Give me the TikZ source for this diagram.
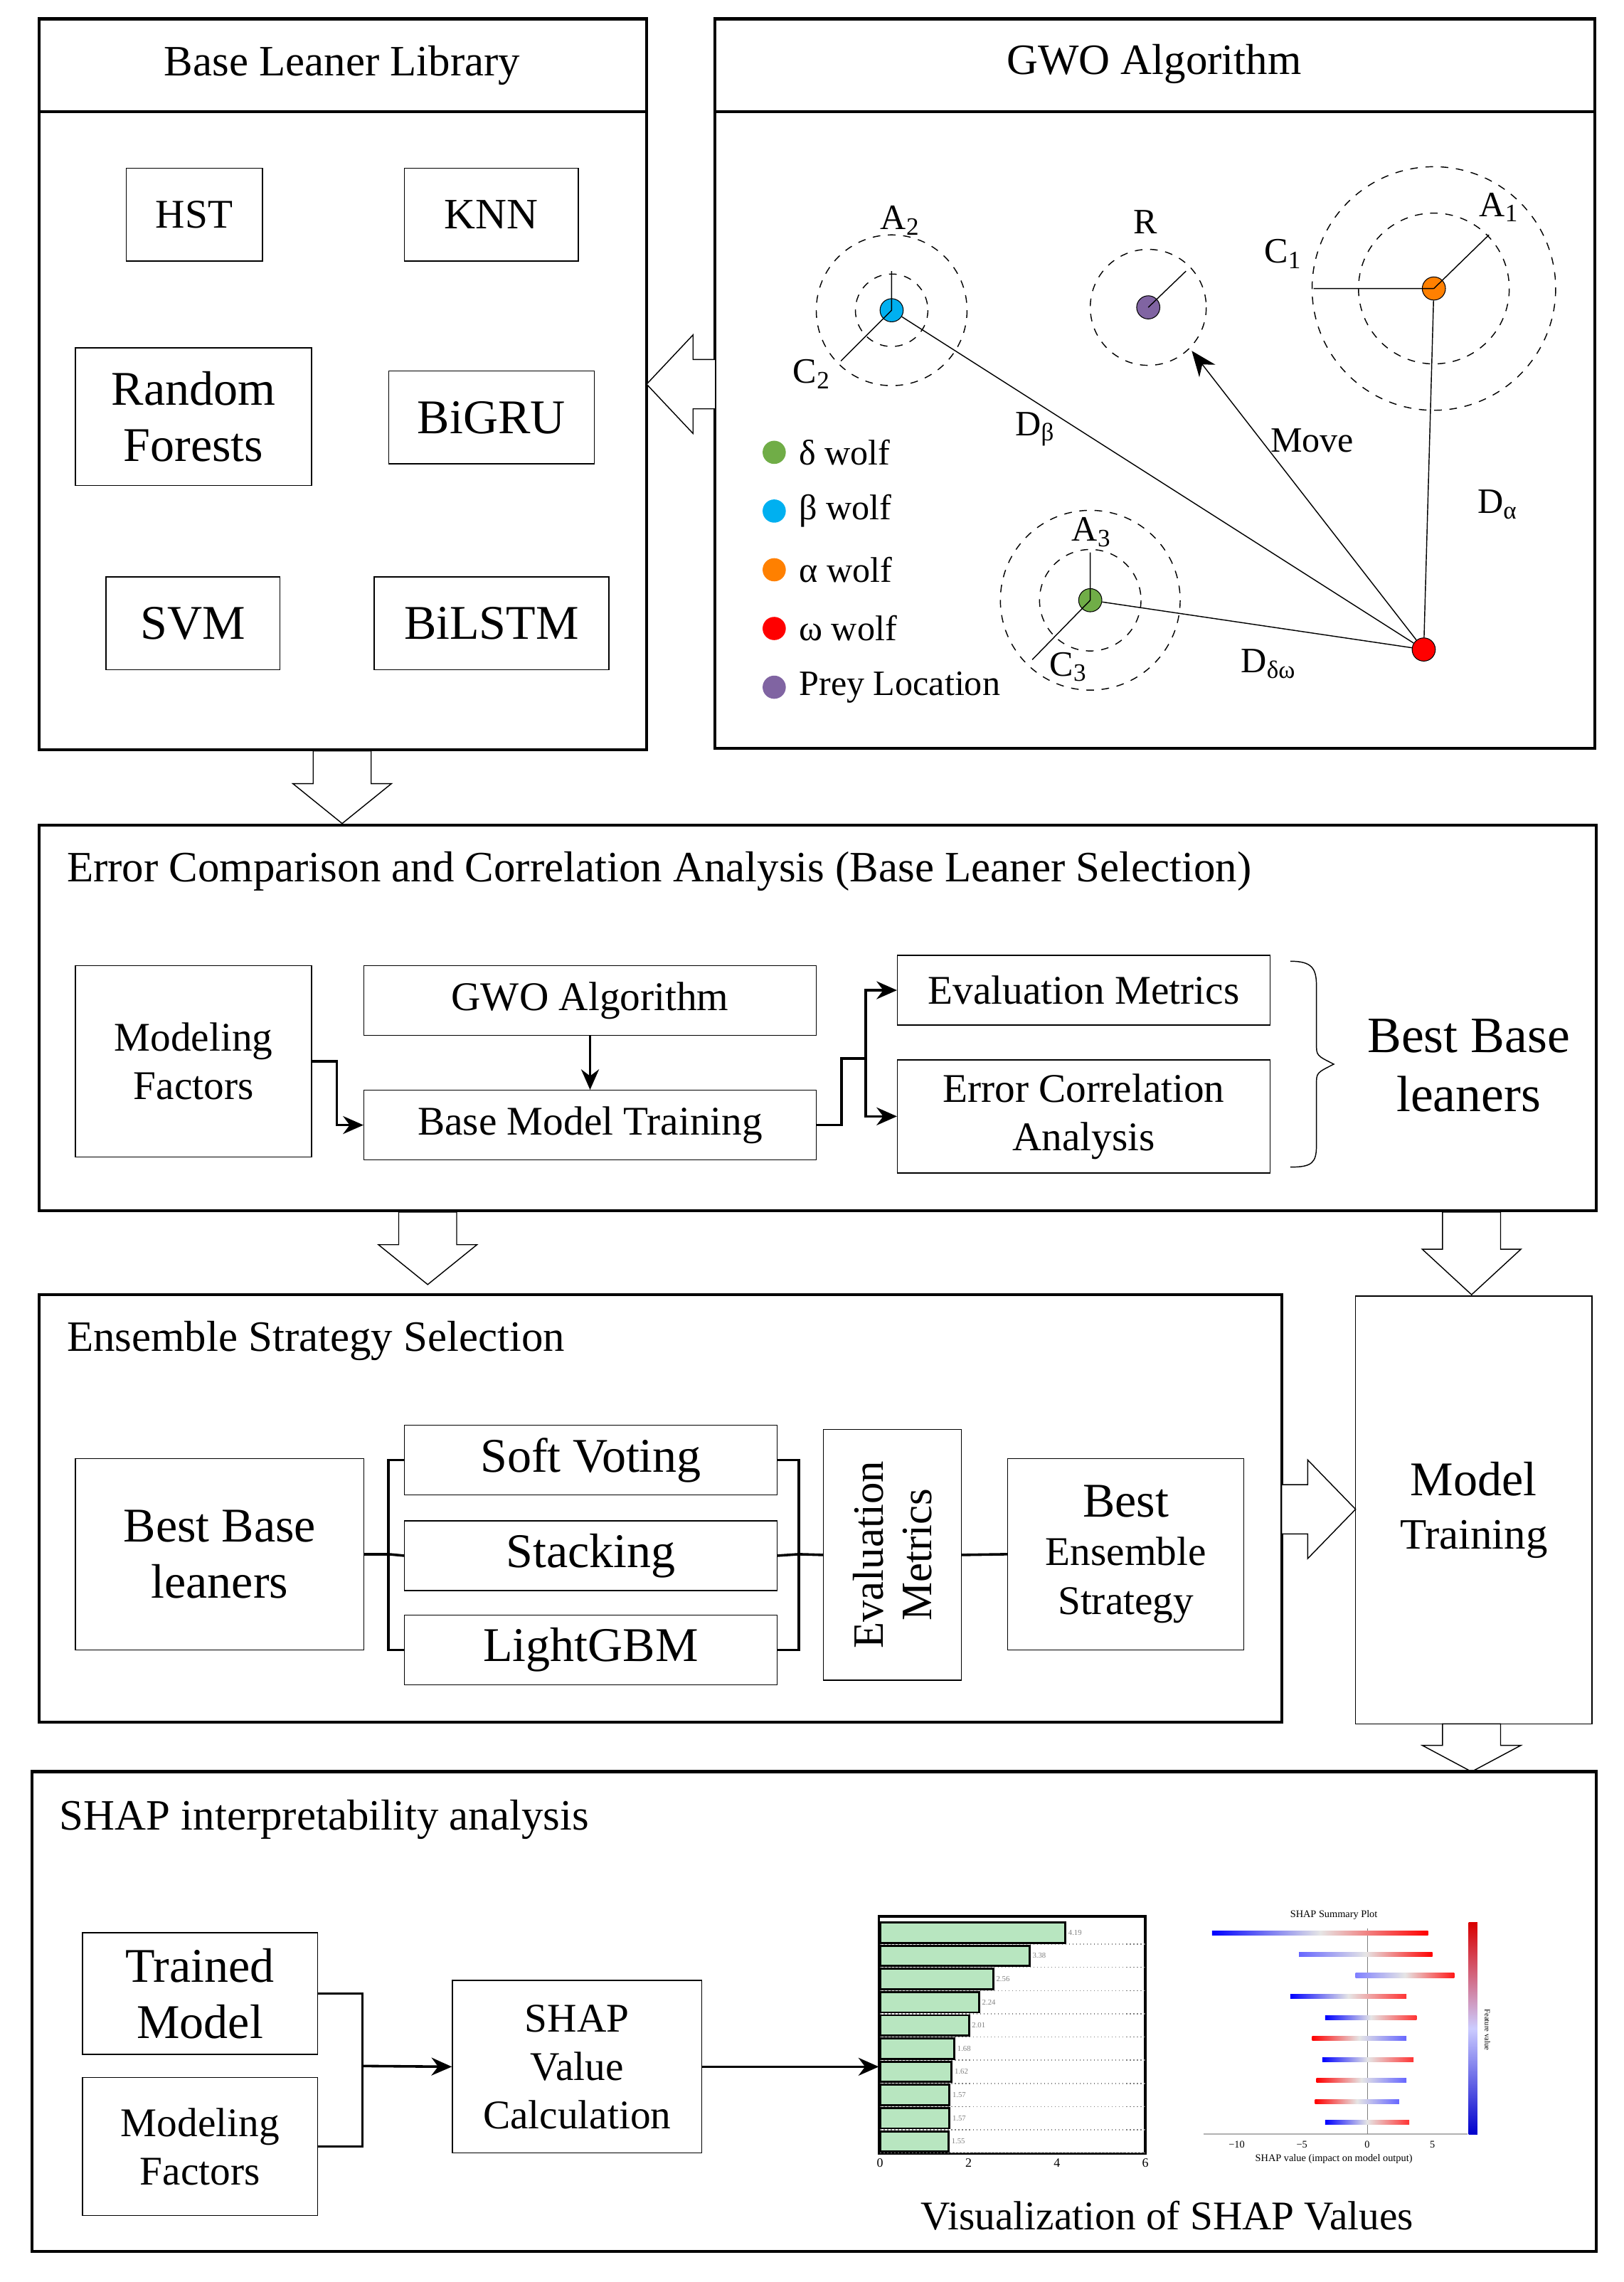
\documentclass[tikz,border=0pt]{standalone}
\usepackage{fontspec}
\setmainfont{Liberation Serif}
\usetikzlibrary{arrows.meta}
\definecolor{wolfgreen}{RGB}{112,173,71}
\definecolor{wolfblue}{RGB}{0,176,240}
\definecolor{wolforange}{RGB}{255,128,0}
\definecolor{wolfpurple}{RGB}{128,100,162}
\definecolor{barfill}{RGB}{184,230,192}
\tikzset{
  frame/.style={draw, line width=1.2pt},
  box/.style={draw, thin, align=center, inner sep=1pt, font=\fontsize{16}{19}\selectfont},
  bigbox/.style={box, font=\fontsize{19}{22}\selectfont},
  title/.style={font=\fontsize{17}{20}\selectfont},
  conn/.style={line width=1pt},
  arr/.style={conn, -{Stealth[length=8pt,width=7pt]}},
  hollow/.style={draw, fill=white, thin},
  wolf/.style={circle, draw=black, line width=0.3pt, inner sep=0pt, minimum size=0.32cm},
  ring/.style={draw, dashed, thin},
  lbl/.style={font=\fontsize{14}{16}\selectfont}
}
% hollow block arrow pointing down: x, top y, bottom y
\newcommand{\hdown}[3]{%
  \pgfmathsetmacro{\hmid}{#2+0.45*(#3-#2)}%
  \path[hollow] ({#1-20},#2) -- ({#1+20},#2) -- ({#1+20},\hmid) -- ({#1+34},\hmid) -- (#1,#3) -- ({#1-34},\hmid) -- ({#1-20},\hmid) -- cycle;}
\begin{document}
\begin{tikzpicture}[x=0.02cm, y=-0.02cm]
  \useasboundingbox (0,0) rectangle (1120,1574);

  % Base learner library
  \draw[frame] (27,13) rectangle (446,517);
  \draw[frame] (27,77) -- (446,77);
  \node[title] at (236,45) {Base Leaner Library};
  \node[box, minimum width=1.88cm, minimum height=1.28cm] (hst) at (134,148) {HST};
  \node[box, minimum width=2.4cm, minimum height=1.28cm, font=\fontsize{17}{20}\selectfont] (knn) at (339,148) {KNN};
  \node[bigbox, minimum width=3.26cm, minimum height=1.9cm] (rf) at (133.5,287.5) {Random\\Forests};
  \node[bigbox, minimum width=2.84cm, minimum height=1.28cm] (bigru) at (339,288) {BiGRU};
  \node[bigbox, minimum width=2.4cm, minimum height=1.28cm] (svm) at (133,430) {SVM};
  \node[bigbox, minimum width=3.24cm, minimum height=1.28cm] (bilstm) at (339,430) {BiLSTM};

  % GWO algorithm
  \draw[frame] (493,13) rectangle (1100,516);
  \draw[frame] (493,77) -- (1100,77);
  \node[title] at (796,44) {GWO Algorithm};
  \path[hollow] (493,248) -- (478,248) -- (478,231) -- (446,265) -- (478,299) -- (478,282) -- (493,282);
  \draw[ring] (615,214) circle (25) (615,214) circle (52);
  \draw[ring] (792,212) circle (40);
  \draw[ring] (989,199) circle (52) (989,199) circle (84);
  \draw[ring] (752,414) circle (35) (752,414) circle (62);
  \node[wolf, fill=wolfblue] (beta) at (615,214) {};
  \node[wolf, fill=wolfpurple] (prey) at (792,212) {};
  \node[wolf, fill=wolforange] (alpha) at (989,199) {};
  \node[wolf, fill=wolfgreen] (delta) at (752,414) {};
  \node[wolf, fill=red] (omega) at (982,448) {};
  \coordinate (a2) at (615,187);
  \coordinate (c2) at (580,249);
  \coordinate (rr) at (818,187);
  \coordinate (a1) at (1027,162);
  \coordinate (c1) at (906,199);
  \coordinate (a3) at (752,381);
  \coordinate (c3) at (712,455);
  \draw[thin] (beta.center) -- (a2) (beta.center) -- (c2);
  \draw[thin] (prey.center) -- (rr);
  \draw[thin] (alpha.center) -- (a1) (alpha.center) -- (c1);
  \draw[thin] (delta.center) -- (a3) (delta.center) -- (c3);
  \draw[thin] (beta) -- (omega);
  \draw[thin] (alpha) -- (omega);
  \draw[thin] (delta) -- (omega);
  \coordinate (hit) at (822,242);
  \draw[thin, -{Stealth[length=10pt,width=8pt]}] (omega) -- (hit);
  \node[lbl] at (621,152) {A\textsubscript{2}};
  \node[lbl] at (560,258) {C\textsubscript{2}};
  \node[lbl] at (790,153) {R};
  \node[lbl] at (1034,143) {A\textsubscript{1}};
  \node[lbl] at (885,175) {C\textsubscript{1}};
  \node[lbl] at (753,367) {A\textsubscript{3}};
  \node[lbl] at (737,460) {C\textsubscript{3}};
  \node[lbl] at (714,296) {D\textsubscript{β}};
  \node[lbl] at (905,304) {Move};
  \node[lbl] at (1033,348) {D\textsubscript{α}};
  \node[lbl] at (875,458) {D\textsubscript{δω}};
  \foreach \c/\t [count=\i from 0] in {wolfgreen/δ wolf, wolfblue/β wolf, wolforange/α wolf, red/ω wolf, wolfpurple/Prey Location} {
    \fill[\c] (534,312+40.5*\i) circle (8);
    \node[lbl, anchor=west] at (545,312+40.5*\i) {\t};
  }

  \hdown{236}{518}{568}

  % error comparison
  \draw[frame] (27,569) rectangle (1101,835);
  \node[title, anchor=west] at (40,601) {Error Comparison and Correlation Analysis (Base Leaner Selection)};
  \node[box, minimum width=3.26cm, minimum height=2.64cm] (mf1) at (133.5,732) {Modeling\\Factors};
  \node[box, minimum width=6.24cm, minimum height=0.96cm] (gwo) at (407,690) {GWO Algorithm};
  \node[box, minimum width=6.24cm, minimum height=0.96cm] (bmt) at (407,776) {Base Model Training};
  \node[box, minimum width=5.14cm, minimum height=0.96cm] (em1) at (747.5,683) {Evaluation Metrics};
  \node[box, minimum width=5.14cm, minimum height=1.56cm] (eca) at (747.5,770) {Error Correlation\\Analysis};
  \coordinate (fork) at (597,730);
  \draw[arr] (mf1.east) -- ++(17,0) |- (bmt.west);
  \draw[arr] (gwo) -- (bmt);
  \draw[conn] (bmt.east) -- ++(17,0) |- (fork);
  \draw[arr] (fork) |- (em1.west);
  \draw[arr] (fork) |- (eca.west);
  \draw[thin] (890,663) .. controls (905,663) and (908,668) .. (908,680) -- (908,720) .. controls (908,728) .. (920,734) .. controls (908,740) .. (908,748) -- (908,790) .. controls (908,802) and (905,805) .. (890,805);
  \node[font=\fontsize{20}{23}\selectfont, align=center] (bbl1) at (1013,735) {Best Base\\leaners};

  \hdown{295}{836}{886}
  \hdown{1015}{836}{893}

  % ensemble strategy
  \draw[frame] (27,893) rectangle (884,1188);
  \node[title, anchor=west] at (40,925) {Ensemble Strategy Selection};
  \node[bigbox, minimum width=3.98cm, minimum height=2.64cm] (bbl2) at (151.5,1072) {Best Base\\leaners};
  \node[bigbox, minimum width=5.14cm, minimum height=0.96cm] (sv) at (407.5,1007) {Soft Voting};
  \node[bigbox, minimum width=5.14cm, minimum height=0.96cm] (st) at (407.5,1073) {Stacking};
  \node[bigbox, minimum width=5.14cm, minimum height=0.96cm] (lg) at (407.5,1138) {LightGBM};
  \node[box, rotate=90, minimum width=3.46cm, minimum height=1.9cm, font=\fontsize{17}{19}\selectfont] (em2) at (615.5,1072.5) {Evaluation\\Metrics};
  \node[box, minimum width=3.26cm, minimum height=2.64cm] (bes) at (776.5,1072) {{\fontsize{19}{22}\selectfont Best}\\Ensemble\\Strategy};
  \coordinate (spl) at (268,1072);
  \coordinate (mrg) at (551,1072);
  \draw[conn] (bbl2.east) -- (spl);
  \draw[conn] (sv.west) -| (spl) |- (lg.west);
  \draw[conn] (st.west) -- (spl);
  \draw[conn] (sv.east) -| (mrg) |- (lg.east);
  \draw[conn] (st.east) -- (mrg) -- (em2.north);
  \draw[conn] (em2.south) -- (bes.west);
  \path[hollow] (884,1024) -- (902,1024) -- (902,1007) -- (935,1041) -- (902,1075) -- (902,1058) -- (884,1058) -- cycle;
  \node[box, minimum width=3.26cm, minimum height=5.9cm, font=\fontsize{17}{21}\selectfont] (mt) at (1016.5,1041.5) {{\fontsize{19}{22}\selectfont Model}\\Training};
  \hdown{1015}{1189}{1222}

  % SHAP analysis
  \draw[frame] (22,1222) rectangle (1101,1553);
  \node[title, anchor=west] at (35,1255) {SHAP interpretability analysis};
  \node[bigbox, minimum width=3.24cm, minimum height=1.68cm] (tm) at (138,1375) {Trained\\Model};
  \node[box, minimum width=3.24cm, minimum height=1.9cm] (mf2) at (138,1480.5) {Modeling\\Factors};
  \node[box, minimum width=3.44cm, minimum height=2.38cm] (svc) at (398,1425.5) {SHAP\\Value\\Calculation};
  \node[minimum width=3.66cm, minimum height=3.26cm, inner sep=0pt] (bars) at (698,1403.5) {};
  \coordinate (join) at (250,1425);
  \draw[conn] (tm.east) -| (join) |- (mf2.east);
  \draw[arr] (join) -- (svc.west);
  \draw[arr] (svc.east) -- (svc.east -| bars.west);
  % bar plot
  \draw[line width=1pt] (bars.south west) rectangle (bars.north east);
  \foreach \v [count=\i from 0] in {4.19,3.38,2.56,2.24,2.01,1.68,1.62,1.57,1.57,1.55} {
    \draw[gray, densely dotted] (607,1341+16*\i) -- (790,1341+16*\i);
    \draw[fill=barfill, line width=0.8pt] (607,1326+16*\i) rectangle (607+30.5*\v,1340+16*\i);
    \node[font=\fontsize{3}{3}\selectfont, anchor=west, inner sep=1pt, gray] at (607+30.5*\v,1333+16*\i) {\v};
  }
  \foreach \t [count=\i from 0] in {0,2,4,6}
    \node[font=\fontsize{5}{5}\selectfont, inner sep=1pt] at (607+61*\i,1492) {\t};
  % summary plot
  \node[font=\fontsize{4}{4}\selectfont] at (920,1321) {SHAP Summary Plot};
  \draw[gray!60, thin] (830,1472) -- (1012,1472);
  \draw[gray, very thin] (943,1330) -- (943,1472);
  \foreach \l/\r/\lc/\rc [count=\i from 0] in {836/985/blue/red, 896/988/blue!60/red, 935/1003/blue!50/red!90, 890/970/blue/red!80, 914/977/blue/red!80, 905/970/red/blue!60, 912/975/blue/red!80, 908/970/red/blue!60, 907/965/red/blue!60, 914/972/blue/red!80} {
    \shade[left color=\lc, right color=\rc, middle color=white!80!gray] (\l,1332+14.5*\i) rectangle (\r,1335+14.5*\i);
  }
  \shade[top color=red!85!black, bottom color=blue!80!black, middle color=white!80!blue] (1013,1326) rectangle (1019,1472);
  \foreach \t [count=\i from 0] in {−10,−5,0,5}
    \node[font=\fontsize{4}{4}\selectfont, inner sep=1pt] at (853+45*\i,1479) {\t};
  \node[font=\fontsize{4}{4}\selectfont] at (920,1489) {SHAP value (impact on model output)};
  \node[font=\fontsize{3}{3}\selectfont, rotate=-90] at (1026,1400) {Feature value};
  \node[font=\fontsize{16}{19}\selectfont] (vis) at (805,1528) {Visualization of SHAP Values};
\end{tikzpicture}
\end{document}
